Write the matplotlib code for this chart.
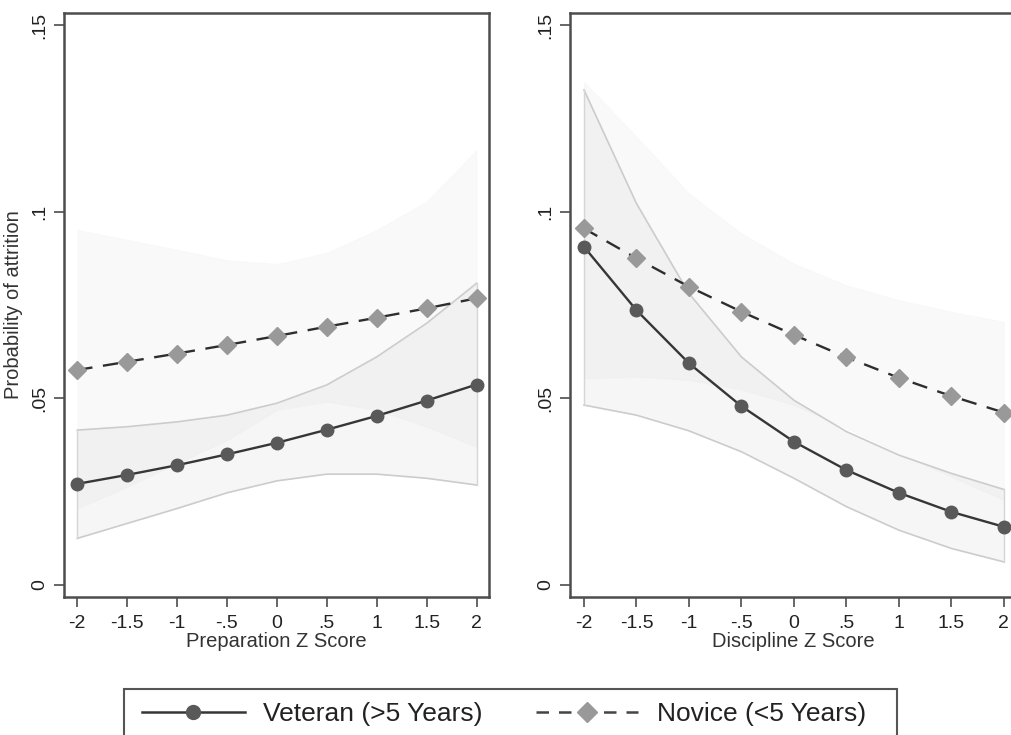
import matplotlib
matplotlib.use("Agg")
import matplotlib.pyplot as plt
from matplotlib.lines import Line2D
from matplotlib.patches import Rectangle

plt.rcParams['font.family'] = ['Liberation Sans', 'DejaVu Sans']

z = [-2, -1.5, -1, -0.5, 0, 0.5, 1, 1.5, 2]
z_labels = ["-2", "-1.5", "-1", "-.5", "0", ".5", "1", "1.5", "2"]
y_ticks = [0, 0.05, 0.1, 0.15]
y_labels = ["0", ".05", ".1", ".15"]

# Preparation panel
prep_vet = [0.0271, 0.0295, 0.0321, 0.0350, 0.0381, 0.0416, 0.0453, 0.0494, 0.0537]
prep_vet_lo = [0.0125, 0.0165, 0.0205, 0.0247, 0.0279, 0.0297, 0.0297, 0.0286, 0.0268]
prep_vet_hi = [0.0415, 0.0424, 0.0437, 0.0455, 0.0487, 0.0536, 0.0611, 0.0701, 0.0808]
prep_nov = [0.0576, 0.0598, 0.0620, 0.0643, 0.0667, 0.0692, 0.0716, 0.0741, 0.0768]
prep_nov_lo = [0.0205, 0.0263, 0.0326, 0.0388, 0.0469, 0.0491, 0.0469, 0.0424, 0.0370]
prep_nov_hi = [0.0951, 0.0925, 0.0898, 0.0870, 0.0860, 0.0890, 0.0951, 0.1027, 0.1165]

# Discipline panel
disc_vet = [0.0906, 0.0736, 0.0594, 0.0479, 0.0384, 0.0308, 0.0247, 0.0196, 0.0156]
disc_vet_lo = [0.0482, 0.0455, 0.0413, 0.0357, 0.0286, 0.0210, 0.0147, 0.0098, 0.0062]
disc_vet_hi = [0.1326, 0.1022, 0.0781, 0.0611, 0.0495, 0.0411, 0.0348, 0.0299, 0.0256]
disc_nov = [0.0955, 0.0875, 0.0799, 0.0732, 0.0670, 0.0610, 0.0555, 0.0506, 0.0462]
disc_nov_lo = [0.0553, 0.0558, 0.0549, 0.0524, 0.0482, 0.0420, 0.0353, 0.0290, 0.0228]
disc_nov_hi = [0.1348, 0.1201, 0.1049, 0.0942, 0.0861, 0.0803, 0.0763, 0.0732, 0.0705]

vet_label = "Veteran (>5 Years)"
nov_label = "Novice (<5 Years)"

W, H = 1011, 735
fig = plt.figure(figsize=(W / 100, H / 100), dpi=100)

ax_l = fig.add_axes([64 / W, 1 - 597 / H, 425 / W, 584 / H])
ax_r = fig.add_axes([570 / W, 1 - 597 / H, 447 / W, 584 / H])

spine_col = "#4d4d4d"
vet_col = "#363636"
vet_mk = "#595959"
nov_mk = "#999999"


def draw_panel(ax, vet, vlo, vhi, nov, nlo, nhi, xlabel, show_ylabel):
    ax.fill_between(z, nlo, nhi, color="#e2e2e2", alpha=0.2, lw=0.8,
                    edgecolor="#efefef", zorder=1)
    ax.fill_between(z, vlo, vhi, color="#d6d6d6", alpha=0.22, lw=0, zorder=2)
    ax.plot(z, vlo, color="#cccccc", lw=1.2, zorder=2)
    ax.plot(z, vhi, color="#cccccc", lw=1.2, zorder=2)
    ax.plot([z[0], z[0]], [vlo[0], vhi[0]], color="#d6d6d6", lw=1.0, zorder=2)
    ax.plot([z[-1], z[-1]], [vlo[-1], vhi[-1]], color="#d6d6d6", lw=1.0, zorder=2)

    ax.plot(z, nov, color="#2e2e2e", lw=1.7, dashes=(6.5, 4.5), zorder=3)
    ax.plot(z, nov, ls="none", marker="D", ms=9.3, mfc=nov_mk, mec=nov_mk,
            zorder=4, clip_on=False)
    ax.plot(z, vet, color=vet_col, lw=1.7, marker="o", ms=9, mfc=vet_mk,
            mec=vet_mk, zorder=5, clip_on=False)

    ax.set_xlim(-2.133, 2.125)
    ax.set_ylim(-0.0032, 0.1532)
    ax.set_xticks(z)
    ax.set_xticklabels(z_labels)
    ax.set_yticks(y_ticks)
    ax.set_yticklabels(y_labels, rotation=90, va="center")
    ax.tick_params(axis="both", direction="out", length=7, width=1.2,
                   color=spine_col, labelsize=14, labelcolor="#222222", pad=4)
    ax.tick_params(axis="x", pad=6)
    for s in ax.spines.values():
        s.set_color(spine_col)
        s.set_linewidth(1.8)
    ax.set_xlabel(xlabel, fontsize=14.5, color="#333333", labelpad=0)
    if show_ylabel:
        ax.set_ylabel("Probability of attrition", fontsize=14.5,
                      color="#333333", labelpad=6)


draw_panel(ax_l, prep_vet, prep_vet_lo, prep_vet_hi, prep_nov, prep_nov_lo,
           prep_nov_hi, "Preparation Z Score", True)
draw_panel(ax_r, disc_vet, disc_vet_lo, disc_vet_hi, disc_nov, disc_nov_lo,
           disc_nov_hi, "Discipline Z Score", False)

# Legend box along the bottom
fig.patches.append(Rectangle((124 / W, 1 - 760 / H), 773 / W, 71 / H,
                             transform=fig.transFigure, fill=False,
                             edgecolor="#555555", lw=1.5))

handles = [
    Line2D([], [], color=vet_col, lw=1.8, marker="o", ms=10, mfc=vet_mk,
           mec=vet_mk),
    Line2D([], [], color="#444444", lw=1.8, dashes=(5, 4), marker="D",
           ms=10, mfc=nov_mk, mec=nov_mk),
]
fig.legend(handles, [vet_label, nov_label], loc="center",
           bbox_to_anchor=(504 / W, 1 - 714 / H), ncol=2, frameon=False,
           fontsize=19, handlelength=3.9, handletextpad=0.7,
           columnspacing=2.0, borderpad=0, labelcolor="#222222")

fig.savefig("out.png", dpi=100)
